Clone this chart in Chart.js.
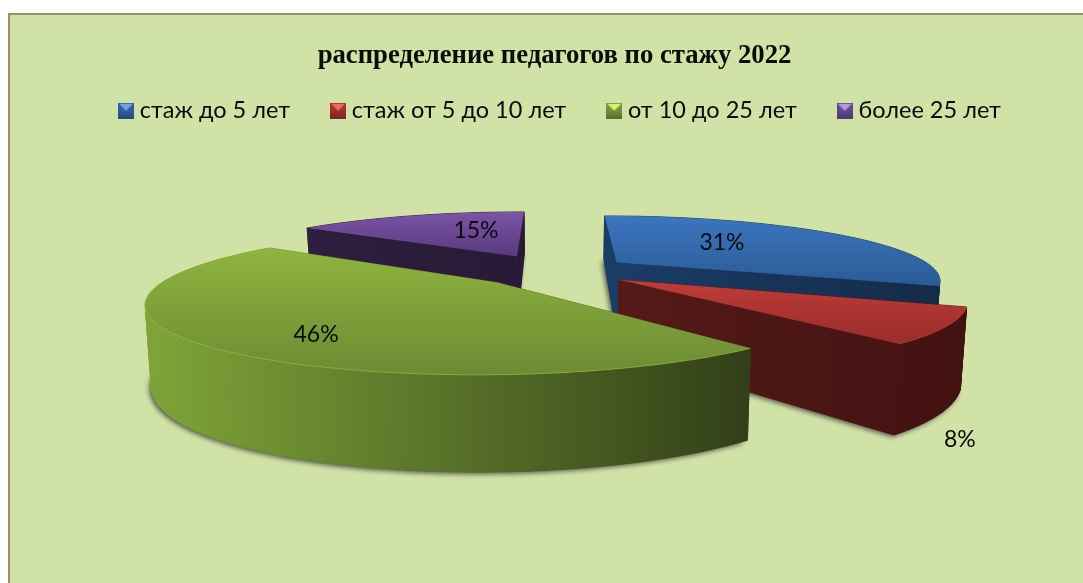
<!DOCTYPE html>
<html>
<head>
<meta charset="utf-8">
<style>
html,body{margin:0;padding:0;background:#fff;width:1083px;height:583px;overflow:hidden}
#frame{position:absolute;left:8px;top:13px;width:1100px;height:600px;background:#d1e2a7;border:2px solid #9c9162;box-sizing:border-box}
#wrap{position:absolute;left:0;top:0;width:1083px;height:583px}
</style>
<script src="https://cdn.jsdelivr.net/npm/chart.js@4"></script>
</head>
<body>
<div id="frame"></div>
<div id="wrap"><canvas id="c" width="1083" height="583"></canvas></div>
<script>
const categories = ['стаж до 5 лет', 'стаж от 5 до 10 лет', 'от 10 до 25 лет', 'более 25 лет'];
const values = [31, 8, 46, 15];
const chartTitle = 'распределение педагогов по стажу 2022';

const topColors  = [['#3c76bf','#2b5a95'], ['#bf3c38','#982d2a'], ['#8fb43f','#6c8b33'], ['#7c54a7','#573b7b']];
const wallColors = [['#1a3d68','#142b48'], ['#551a18','#421211'], ['#7fa539','#323f18'], ['#2e1e3f','#281a36']];
const rimColors  = ['#3f7cc8', '#c44340', '#97c044', '#8059ab'];
const legendColors = [['#6fa3e0','#2f5f9e','#24497a'], ['#e86a66','#a5302d','#7a2422'], ['#d8f070','#76923a','#566b2a'], ['#b795e6','#604a8f','#4a3870']];
const labelUV = [[0.598,-0.571],[0.76,1.6],[-0.598,0.79],[-0.297,-0.839]];
const explodes = [0.243, 0.24, 0.25, 0.275];

const RADIUS = 100, KX = 3.2, KY = 0.62, PERSP = 0.25, WALL = 70, WALLP = 0.33, LABEL_DY = 3;

function legendIcon(c){
  const s = 16, cv = document.createElement('canvas'); cv.width = s; cv.height = s;
  const g = cv.getContext('2d');
  g.fillStyle = c[1]; g.fillRect(0,0,s,s);
  const lg = g.createLinearGradient(0,s*0.45,0,s); lg.addColorStop(0,c[1]); lg.addColorStop(1,c[2]);
  g.fillStyle = lg; g.fillRect(0,s*0.45,s,s*0.55);
  g.fillStyle = c[0]; g.beginPath(); g.moveTo(1,1); g.lineTo(s-1,1); g.lineTo(s/2,s*0.5); g.closePath(); g.fill();
  return cv;
}

const pie3d = {
  id: 'pie3d',
  afterLayout(chart){
    chart.legend.left += 8; chart.legend.right += 8;
  },
  beforeDatasetDraw(chart){
    const ctx = chart.ctx, arcs = chart.getDatasetMeta(0).data;
    const cx = arcs[0].x, cy = arcs[0].y, R = arcs[0].outerRadius;
    const rx = R*KX, ry = R*KY;
    const P = (u,v,z) => {
      const s = 1/(1-PERSP*v);
      return [cx + u*rx*s*(1-0.015*z), cy + v*ry*s + z*WALL*(1+WALLP*v)];
    };
    const trace = (pts,close) => {
      ctx.beginPath(); pts.forEach((p,i)=> i?ctx.lineTo(p[0],p[1]):ctx.moveTo(p[0],p[1]));
      if(close) ctx.closePath();
    };
    const slices = arcs.map((a,i)=>{
      const mid = (a.startAngle+a.endAngle)/2;
      const ou = explodes[i]*Math.cos(mid), ov = explodes[i]*Math.sin(mid), n = 80, rim = [];
      for(let k=0;k<=n;k++){
        const t = a.startAngle+(a.endAngle-a.startAngle)*k/n;
        rim.push([ou+Math.cos(t)*a.outerRadius/R, ov+Math.sin(t)*a.outerRadius/R]);
      }
      return {i,ou,ov,rim};
    });
    [3,0,1,2].forEach(i=>{
      const sl = slices[i], rim = sl.rim;
      const outline = z => [P(sl.ou,sl.ov,z)].concat(rim.map(q=>P(q[0],q[1],z)));
      const topPts = outline(0), botPts = outline(1);
      const all = topPts.concat(botPts), xs = all.map(p=>p[0]);
      const x0 = Math.min(...xs), x1 = Math.max(...xs);
      const wg = ctx.createLinearGradient(x0,0,x1,0);
      wg.addColorStop(0,wallColors[i][0]); wg.addColorStop(1,wallColors[i][1]);
      ctx.save();
      ctx.shadowColor = 'rgba(40,40,40,0.75)'; ctx.shadowBlur = 5; ctx.shadowOffsetX = -2; ctx.shadowOffsetY = 2;
      ctx.fillStyle = wallColors[i][1];
      trace(botPts,true); ctx.fill();
      ctx.restore();
      const c = [sl.ou,sl.ov];
      const quad = (a,b) => {
        trace([P(a[0],a[1],0),P(b[0],b[1],0),P(b[0],b[1],1),P(a[0],a[1],1)],true);
        ctx.fillStyle = wg; ctx.strokeStyle = wg; ctx.lineWidth = 0.8; ctx.fill(); ctx.stroke();
      };
      // back part of the outer wall, then the two cut faces, then the front part
      for(let k=0;k<rim.length-1;k++) if(rim[k][1]-sl.ov<0) quad(rim[k],rim[k+1]);
      quad(c,rim[0]); quad(c,rim[rim.length-1]);
      for(let k=0;k<rim.length-1;k++) if(rim[k][1]-sl.ov>=0) quad(rim[k],rim[k+1]);
      const ys = topPts.map(p=>p[1]);
      const tg = ctx.createLinearGradient(0,Math.min(...ys),0,Math.max(...ys));
      tg.addColorStop(0,topColors[i][0]); tg.addColorStop(1,topColors[i][1]);
      trace(topPts,true); ctx.fillStyle = tg; ctx.fill();
      const front = rim.filter(q=>q[1]-sl.ov>0).map(q=>P(q[0],q[1],0));
      if(front.length>1){ ctx.save(); ctx.globalAlpha = 0.7; trace(front,false); ctx.strokeStyle = rimColors[i]; ctx.lineWidth = 1; ctx.stroke(); ctx.restore(); }
    });
    ctx.save();
    ctx.fillStyle = '#0b0b0b';
    ctx.font = '23px Lato';
    ctx.textAlign = 'center'; ctx.textBaseline = 'middle';
    values.forEach((v,i)=>{
      const q = P(labelUV[i][0],labelUV[i][1],0);
      ctx.fillText(v+'%', q[0], q[1]+LABEL_DY);
    });
    ctx.restore();
    return false;
  }
};

new Chart(document.getElementById('c'), {
  type: 'pie',
  plugins: [pie3d],
  data: { labels: categories, datasets: [{ data: values, backgroundColor: topColors.map(c=>c[0]), borderWidth: 0 }] },
  options: {
    responsive: false,
    animation: false,
    radius: RADIUS,
    layout: { padding: { left: 26, right: 0, top: 0, bottom: 174 } },
    plugins: {
      tooltip: { enabled: false },
      title: {
        display: true, text: chartTitle, color: '#0b0b0b',
        font: { family: '"Liberation Serif"', size: 26.7, weight: 'bold' },
        padding: { top: 40, bottom: -19 }
      },
      legend: {
        position: 'top',
        labels: {
          color: '#0b0b0b',
          font: { family: 'Lato', size: 23.5 },
          padding: 46, boxWidth: 4, boxHeight: 16, pointStyleWidth: 4, usePointStyle: true,
          generateLabels: () => categories.map((t,i)=>({ text: t, pointStyle: legendIcon(legendColors[i]), fillStyle: topColors[i][0], strokeStyle: 'transparent', lineWidth: 0, index: i, fontColor: '#0b0b0b' }))
        }
      }
    }
  }
});
</script>
</body>
</html>
